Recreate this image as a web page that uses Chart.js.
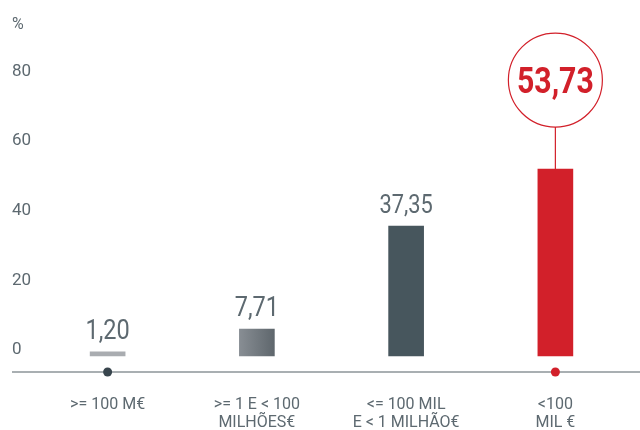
<!DOCTYPE html>
<html>
<head>
<meta charset="utf-8">
<script src="https://cdn.jsdelivr.net/npm/chart.js@4.4.1/dist/chart.umd.min.js"></script>
<style>
  html, body { margin: 0; padding: 0; background: #fff; }
  #wrap { position: relative; width: 640px; height: 430px; }
</style>
</head>
<body>
<div id="wrap"><canvas id="chart"></canvas></div>
<script>
// dimensão das empresas — % do total
const categorias = [
  ['>= 100 M€'],
  ['>= 1 E < 100', 'MILHÕES€'],
  ['<= 100 MIL', 'E < 1 MILHÃO€'],
  ['<100', 'MIL €']
];
const valores   = [1.20, 7.71, 37.35, 53.73];
const rotulos   = ['1,20', '7,71', '37,35', '53,73'];
const yTicks    = [0, 20, 40, 60, 80];
const marcadores = [true, false, false, true];

const FONT = "Roboto, 'DejaVu Sans Condensed', sans-serif";
const C = {
  text:  '#5d6970',
  axis:  '#8c9498',
  light: '#a9acb0',
  slate: '#47565d',
  dot:   '#38454d',
  red:   '#d2202a',
};
const Y_MIN = -4.6, Y_MAX = 96;

function barColor(ctx) {
  const i = ctx.dataIndex;
  const flat = [C.light, '#737a80', C.slate, C.red][i];
  if (i !== 1) return flat;
  const xs = ctx.chart.scales.x;
  if (!xs || !ctx.chart.chartArea) return flat;
  const cx = xs.getPixelForValue(i);
  if (!isFinite(cx)) return flat;
  const g = ctx.chart.ctx.createLinearGradient(cx - 17, 0, cx + 17, 0);
  g.addColorStop(0, '#878d93');
  g.addColorStop(1, '#5f676d');
  return g;
}

// texto estreito, à maneira da fonte condensada do original
function narrowText(ctx, txt, x, y, sx) {
  ctx.save();
  ctx.translate(x, y);
  ctx.scale(sx, 1);
  ctx.fillText(txt, 0, 0);
  ctx.restore();
}

const decor = {
  id: 'decor',
  beforeDatasetsDraw(chart) {
    const { ctx, chartArea } = chart;
    ctx.save();
    ctx.strokeStyle = C.axis;
    ctx.lineWidth = 1.6;
    ctx.beginPath();
    ctx.moveTo(12, chartArea.bottom);
    ctx.lineTo(chart.width, chartArea.bottom);
    ctx.stroke();
    ctx.fillStyle = C.text;
    ctx.font = `16px ${FONT}`;
    ctx.textAlign = 'left';
    ctx.textBaseline = 'middle';
    ctx.fillText('%', 12, 25);
    ctx.restore();
  },
  afterDatasetsDraw(chart) {
    const { ctx } = chart;
    const meta = chart.getDatasetMeta(0);
    ctx.save();
    ctx.textAlign = 'center';
    meta.data.forEach((bar, i) => {
      if (i === valores.length - 1) {
        const cy = bar.y - 89, r = 47;
        ctx.strokeStyle = C.red;
        ctx.lineWidth = 1.2;
        ctx.beginPath();
        ctx.arc(bar.x, cy, r, 0, Math.PI * 2);
        ctx.stroke();
        ctx.beginPath();
        ctx.moveTo(bar.x, cy + r);
        ctx.lineTo(bar.x, bar.y);
        ctx.stroke();
        ctx.fillStyle = C.red;
        ctx.font = `bold 36px ${FONT}`;
        ctx.textBaseline = 'alphabetic';
        narrowText(ctx, rotulos[i], bar.x, cy + 13, 0.84);
      } else {
        ctx.fillStyle = C.text;
        ctx.font = `${i === 2 ? 26 : 28}px ${FONT}`;
        ctx.textBaseline = 'alphabetic';
        narrowText(ctx, rotulos[i], bar.x, bar.y - 13, 0.84);
      }
    });
    ctx.restore();
  }
};

new Chart(document.getElementById('chart'), {
  type: 'bar',
  data: {
    labels: categorias,
    datasets: [
      {
        data: valores,
        backgroundColor: barColor,
        barThickness: 35,
        borderWidth: 0,
      },
      {
        type: 'line',
        data: marcadores.map(m => m ? Y_MIN : null),
        showLine: false,
        pointRadius: 4.5,
        pointHoverRadius: 4.5,
        pointBackgroundColor: [C.dot, C.dot, C.dot, C.red],
        pointBorderWidth: 0,
        clip: false,
      }
    ]
  },
  options: {
    responsive: true,
    maintainAspectRatio: false,
    animation: false,
    layout: { padding: { top: 22, left: 12, right: 10, bottom: 0 } },
    plugins: { legend: { display: false }, tooltip: { enabled: false } },
    scales: {
      x: {
        offset: true,
        grid: { display: false },
        border: { display: false },
        ticks: {
          color: C.text,
          font: { family: FONT, size: 16, lineHeight: 1.125 },
          padding: 16,
          maxRotation: 0,
          autoSkip: false,
        },
        afterFit: s => { s.height = 58; },
      },
      y: {
        min: Y_MIN,
        max: Y_MAX,
        grid: { display: false },
        border: { display: false },
        afterBuildTicks: s => { s.ticks = yTicks.map(v => ({ value: v })); },
        afterFit: s => { s.width = 21; },
        ticks: {
          color: C.text,
          font: { family: FONT, size: 17 },
          crossAlign: 'far',
          labelOffset: -6,
          padding: 0,
        },
      }
    }
  },
  plugins: [decor]
});
</script>
</body>
</html>
